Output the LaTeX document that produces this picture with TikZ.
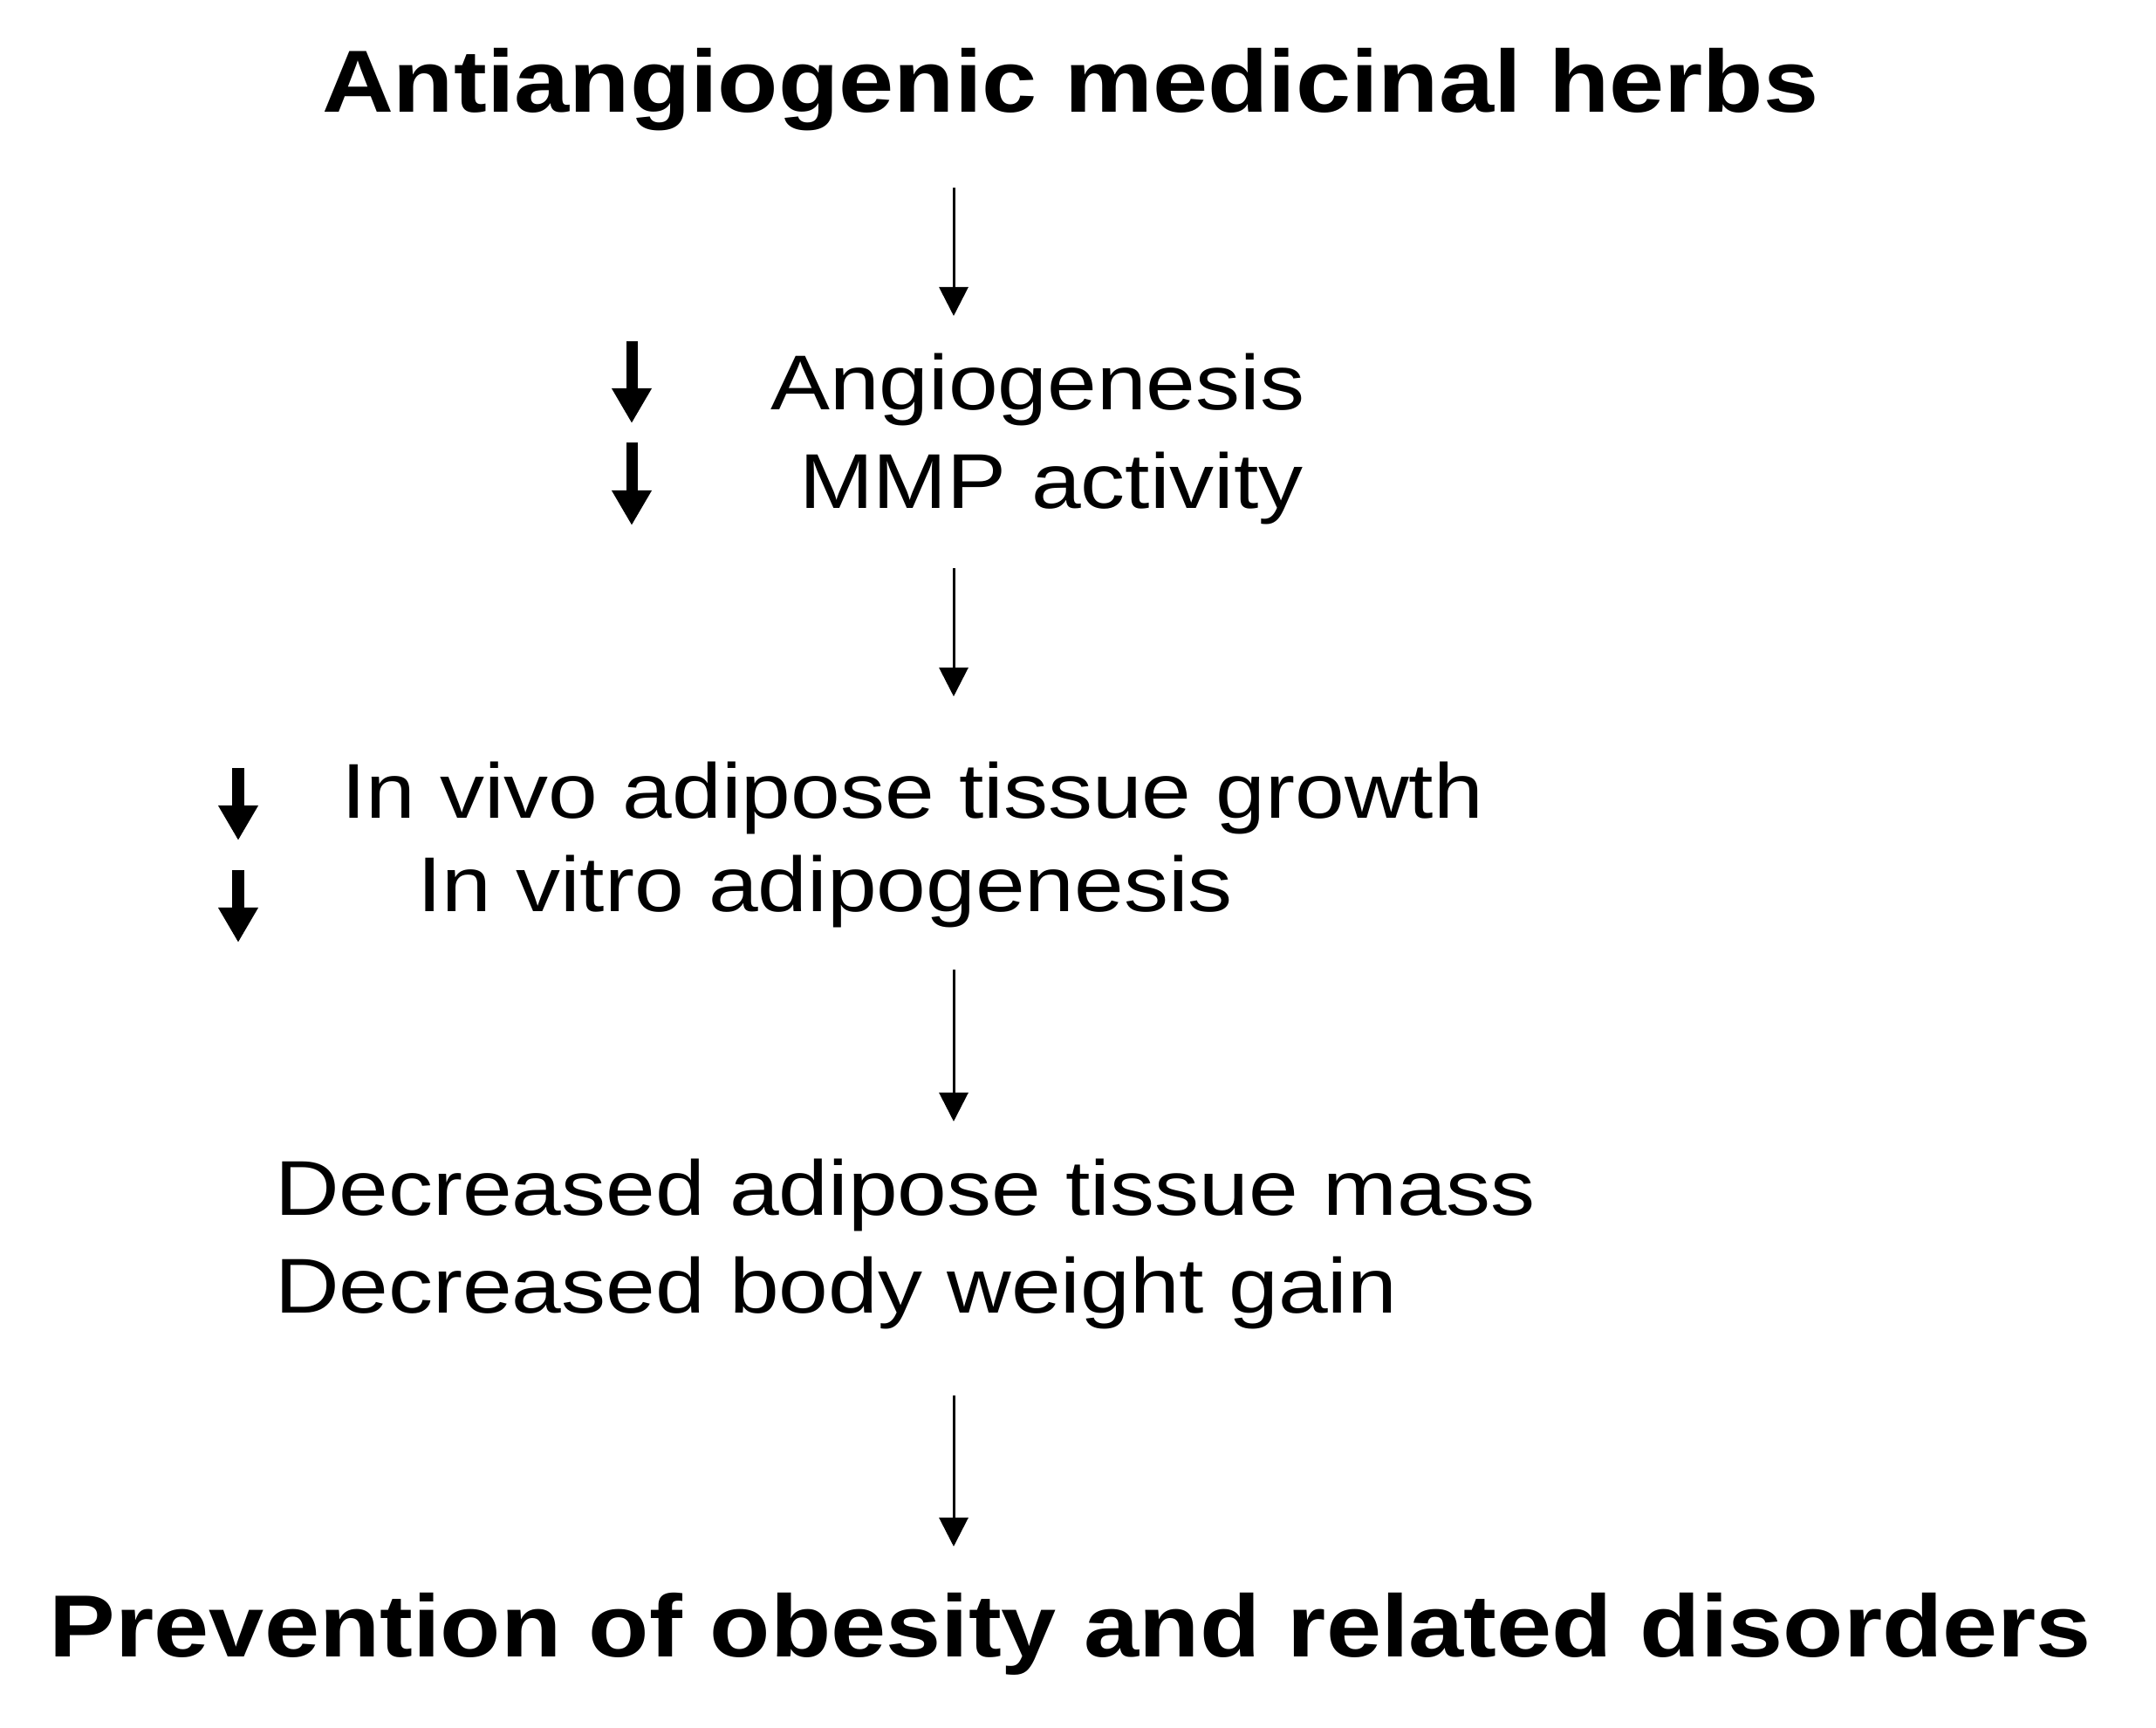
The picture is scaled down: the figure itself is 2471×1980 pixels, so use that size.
\documentclass[tikz,border=0pt]{standalone}
\usepackage{graphicx}
\usepackage{fontspec}
\setmainfont{Liberation Sans}
\usetikzlibrary{arrows.meta}
\newcommand{\regwide}[1]{\scalebox{1.145}[1]{#1}}
\newcommand{\boldwide}[1]{\scalebox{1.123}[1]{\bfseries #1}}
\tikzset{
  txtreg/.style={font=\fontsize{25.32pt}{30pt}\selectfont, anchor=base west, inner sep=0pt, outer sep=0pt},
  txtbold/.style={font=\fontsize{28.74pt}{34pt}\selectfont, anchor=base west, inner sep=0pt, outer sep=0pt},
  thinarrow/.style={line width=0.03cm, -{Triangle[width=0.33cm,length=0.33cm]}},
  boldarrow/.style={line width=0.13cm, -{Triangle[width=0.43cm,length=0.40cm]}}
}
\begin{document}
\begin{tikzpicture}[x=0.01cm, y=-0.01cm]
\useasboundingbox[fill=white] (0,0) rectangle (2471,1980);

\node[txtbold] (title) at (369,129) {\boldwide{Antiangiogenic medicinal herbs}};
\node[txtreg] (angio) at (883,470) {\regwide{Angiogenesis}};
\node[txtreg] (mmp) at (916,583) {\regwide{MMP activity}};
\node[txtreg] (invivo) at (391,938) {\regwide{In vivo adipose tissue growth}};
\node[txtreg] (invitro) at (478,1045) {\regwide{In vitro adipogenesis}};
\node[txtreg] (decmass) at (315,1393) {\regwide{Decreased adipose tissue mass}};
\node[txtreg] (decbody) at (315,1505) {\regwide{Decreased body weight gain}};
\node[txtbold] (prev) at (57,1899) {\boldwide{Prevention of obesity and related disorders}};

% thin flow arrows
\coordinate (a1s) at (1093,215);
\coordinate (a1e) at (1093,362);
\coordinate (a2s) at (1093,651);
\coordinate (a2e) at (1093,798);
\coordinate (a3s) at (1093,1111);
\coordinate (a3e) at (1093,1285);
\coordinate (a4s) at (1093,1599);
\coordinate (a4e) at (1093,1772);
\draw[thinarrow] (a1s) -- (a1e);
\draw[thinarrow] (a2s) -- (a2e);
\draw[thinarrow] (a3s) -- (a3e);
\draw[thinarrow] (a4s) -- (a4e);

% bold decrease arrows
\coordinate (b1s) at (724,391);
\coordinate (b1e) at (724,485);
\coordinate (b2s) at (724,507);
\coordinate (b2e) at (724,602);
\coordinate (b3s) at (273,880);
\coordinate (b3e) at (273,963);
\coordinate (b4s) at (273,997);
\coordinate (b4e) at (273,1080);
\draw[boldarrow] (b1s) -- (b1e);
\draw[boldarrow] (b2s) -- (b2e);
\draw[boldarrow] (b3s) -- (b3e);
\draw[boldarrow] (b4s) -- (b4e);
\end{tikzpicture}
\end{document}
